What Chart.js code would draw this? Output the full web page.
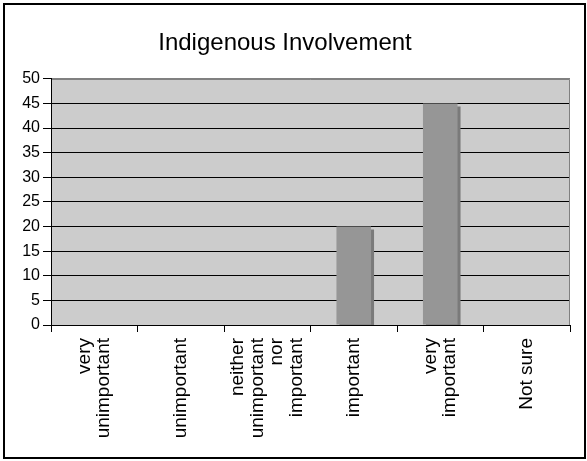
<!DOCTYPE html>
<html>
<head>
<meta charset="utf-8">
<script src="https://cdn.jsdelivr.net/npm/chart.js@4/dist/chart.umd.min.js"></script>
<style>
  html, body { margin: 0; padding: 0; background: #fff; }
  canvas { display: block; }
</style>
</head>
<body>
<canvas id="chart" width="587" height="461"></canvas>
<script>
  const categories = [
    ["very", "unimportant"],
    ["unimportant"],
    ["neither", "unimportant", "nor", "important"],
    ["important"],
    ["very", "important"],
    ["Not sure"]
  ];
  const responses = [0, 0, 0, 20, 45, 0];
  const yMin = 0;
  const yMax = 50;
  const yStep = 5;

  Chart.defaults.font.family = "'Liberation Sans', Arial, sans-serif";
  Chart.defaults.color = "#000";

  // plot area fill, outer frame, gray top/right border like the old Excel look
  const frame = {
    id: "frame",
    beforeDraw(chart) {
      const ctx = chart.ctx;
      const a = chart.chartArea;
      ctx.save();
      ctx.fillStyle = "#fff";
      ctx.fillRect(0, 0, chart.width, chart.height);
      ctx.fillStyle = "#cccccc";
      ctx.fillRect(a.left, a.top, a.right - a.left, a.bottom - a.top);
      ctx.restore();
    },
    beforeDatasetsDraw(chart) {
      const ctx = chart.ctx;
      const a = chart.chartArea;
      ctx.save();
      ctx.strokeStyle = "#808080";
      ctx.lineWidth = 1;
      ctx.beginPath();
      ctx.moveTo(Math.round(a.left) + 1, Math.round(a.top) + 0.5);
      ctx.lineTo(Math.round(a.right) - 0.5, Math.round(a.top) + 0.5);
      ctx.lineTo(Math.round(a.right) - 0.5, Math.round(a.bottom));
      ctx.stroke();
      ctx.restore();
    },
    afterDraw(chart) {
      const ctx = chart.ctx;
      ctx.save();
      ctx.strokeStyle = "#000";
      ctx.lineWidth = 2;
      ctx.strokeRect(4, 4, 581, 454);
      ctx.restore();
    }
  };

  // category labels: rotated, lines centred on the tick (chart.js stacks them off to one side)
  const xLabels = {
    id: "xLabels",
    afterDraw(chart) {
      const ctx = chart.ctx;
      const xs = chart.scales.x;
      const top = xs.top + 13;
      const lh = 19.5;
      ctx.save();
      ctx.fillStyle = "#000";
      ctx.font = "19px 'Liberation Sans', Arial, sans-serif";
      ctx.textAlign = "right";
      ctx.textBaseline = "middle";
      chart.data.labels.forEach(function (lines, i) {
        const x = xs.getPixelForTick(i);
        ctx.save();
        ctx.translate(x, top);
        ctx.rotate(-Math.PI / 2);
        lines.forEach(function (line, j) {
          ctx.fillText(line, 0, (j - (lines.length - 1) / 2) * lh);
        });
        ctx.restore();
      });
      ctx.restore();
    }
  };

  // flat drop shadow on the bars
  const barShadow = {
    id: "barShadow",
    beforeDatasetDraw(chart) {
      const ctx = chart.ctx;
      ctx.save();
      ctx.shadowColor = "#7a7a7a";
      ctx.shadowOffsetX = 3;
      ctx.shadowOffsetY = 3;
      ctx.shadowBlur = 0;
    },
    afterDatasetDraw(chart) {
      chart.ctx.restore();
    }
  };

  new Chart(document.getElementById("chart"), {
    type: "bar",
    data: {
      labels: categories,
      datasets: [{
        data: responses,
        backgroundColor: "#969696",
        borderWidth: 0,
        barPercentage: 0.4,
        categoryPercentage: 1,
        clip: 0
      }]
    },
    options: {
      responsive: false,
      animation: false,
      devicePixelRatio: 1,
      layout: { padding: { left: 0, right: 17, top: 0, bottom: 0 } },
      plugins: {
        legend: { display: false },
        tooltip: { enabled: false },
        title: {
          display: true,
          text: "Indigenous Involvement",
          color: "#000",
          font: { size: 24, weight: "normal" },
          padding: { top: 29, bottom: 21 }
        }
      },
      scales: {
        x: {
          offset: true,
          grid: {
            offset: true,
            drawOnChartArea: false,
            color: "#000",
            tickLength: 7
          },
          border: { color: "#000", width: 1 },
          ticks: { display: false, autoSkip: false },
          afterFit(scale) { scale.height = 136; }
        },
        y: {
          min: yMin,
          max: yMax,
          grid: {
            color: (c) => (c.tick && c.tick.value === yMax ? "#808080" : "#000"),
            tickColor: "#000",
            tickLength: 8
          },
          border: { color: "#000", width: 1 },
          ticks: {
            stepSize: yStep,
            padding: 3,
            color: "#000",
            font: { size: 16 }
          },
          afterFit(scale) { scale.width = 51; }
        }
      }
    },
    plugins: [frame, xLabels, barShadow]
  });
</script>
</body>
</html>
